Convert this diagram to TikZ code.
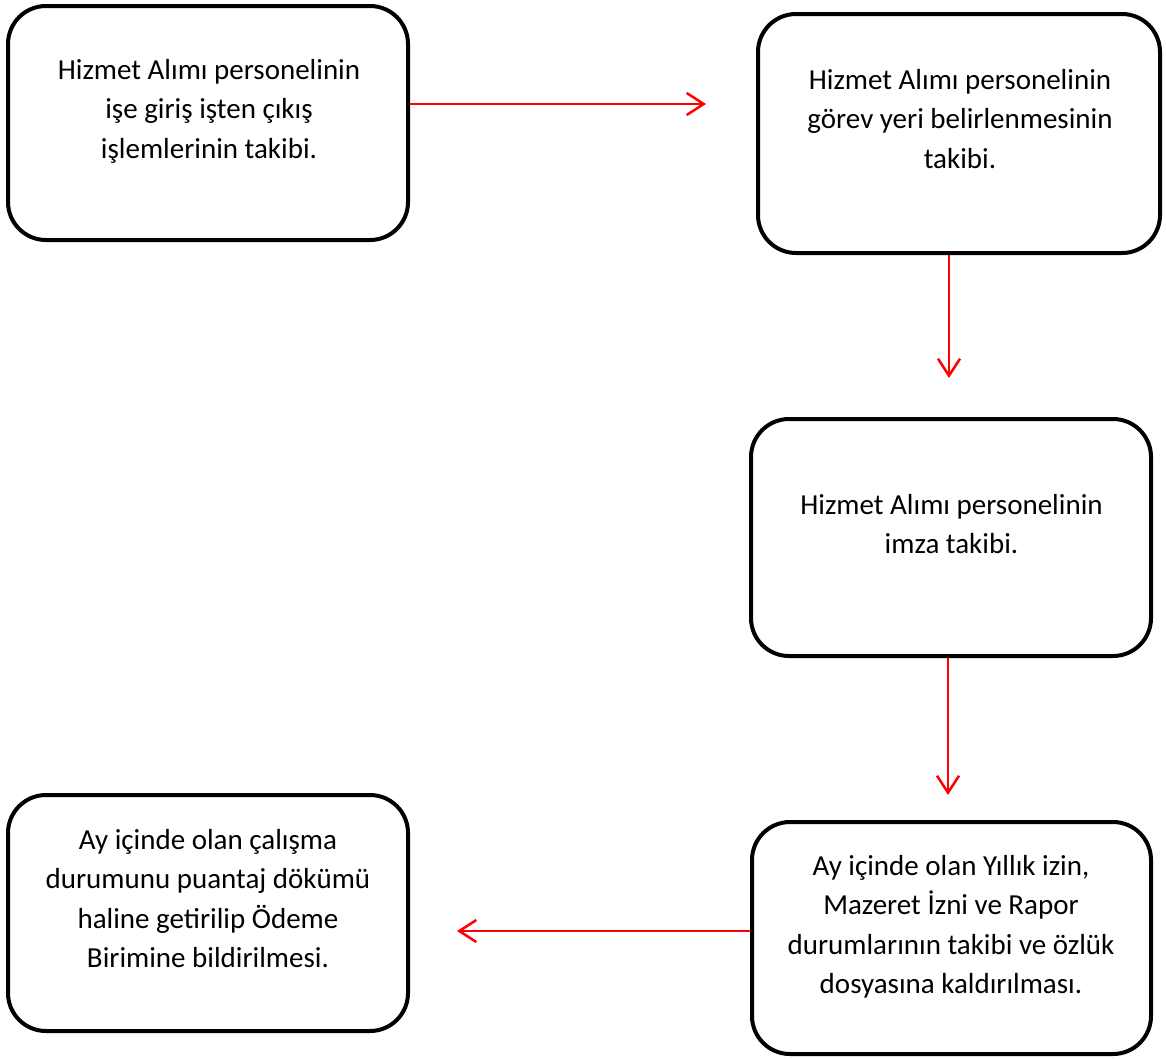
\documentclass[tikz,border=0pt]{standalone}
\usepackage{fontspec}
\setmainfont{Carlito}
\usetikzlibrary{arrows.meta}
\begin{document}
\begin{tikzpicture}[x=1pt,y=-1pt,
  box/.style={draw=black,line width=4pt,rounded corners=38pt,inner sep=0pt,minimum width=400pt,minimum height=234pt},
  txt/.style={anchor=north,inner sep=0pt,align=center,font=\fontsize{29pt}{39.5pt}\selectfont},
  flow/.style={draw=red,line width=2pt,-{Straight Barb[length=17pt,width=22pt,line width=2.5pt]}}]
\useasboundingbox (0,0) rectangle (1166,1058);
\fill[white] (0,0) rectangle (1166,1058);
% boxes
\node[box] (b1) at (208,123) {};
\node[box,minimum width=402pt,minimum height=239pt] (b2) at (959,133.5) {};
\node[box,minimum height=237pt] (b3) at (951,537.5) {};
\node[box,minimum width=399pt,minimum height=232pt] (b4) at (951.5,938) {};
\node[box,minimum height=236pt] (b5) at (208,913) {};
% texts
\node[txt] (t1) at (209,59) {Hizmet Alımı personelinin\\işe giriş işten çıkış\\işlemlerinin takibi.};
\node[txt] (t2) at (960,69) {Hizmet Alımı personelinin\\görev yeri belirlenmesinin\\takibi.};
\node[txt] (t3) at (951.5,494) {Hizmet Alımı personelinin\\imza takibi.};
\node[txt] (t4) at (951,855) {Ay içinde olan Yıllık izin,\\Mazeret İzni ve Rapor\\durumlarının takibi ve özlük\\dosyasına kaldırılması.};
\node[txt] (t5) at (208,829) {Ay içinde olan çalışma\\durumunu puantaj dökümü\\haline getirilip Ödeme\\Birimine bildirilmesi.};
% arrow ends
\coordinate (a1) at (706,104);
\coordinate (a2) at (949,378);
\coordinate (a3) at (948,795);
\coordinate (a4) at (457,931);
\path[flow] (b1.east |- a1) -- (a1);
\path[flow] (b2.south -| a2) -- (a2);
\path[flow] (b3.south -| a3) -- (a3);
\path[flow] (b4.west |- a4) -- (a4);
\end{tikzpicture}
\end{document}
